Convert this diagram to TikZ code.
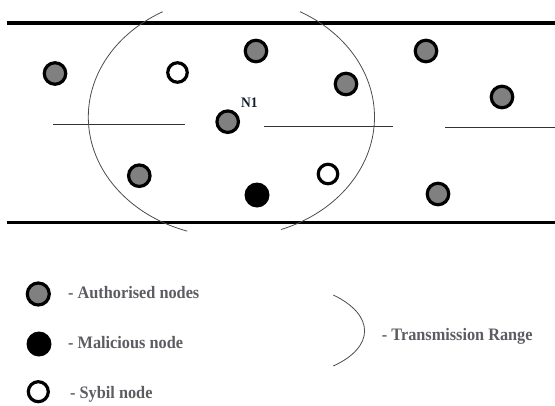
\documentclass[tikz,border=0pt]{standalone}
\usepackage{fontspec}
\newfontfamily\lblfont{Liberation Serif}[FakeStretch=0.93]
\definecolor{txtgray}{RGB}{92,92,98}
\definecolor{nodegray}{RGB}{128,128,128}
\definecolor{ntxt}{RGB}{20,28,48}
\tikzset{
  roadline/.style={line width=3.4pt, black},
  thinline/.style={line width=0.9pt, black!80},
  rangeline/.style={line width=0.8pt, black!70},
  authnode/.style={circle, draw=black, line width=3.2pt, fill=nodegray, minimum size=21.5pt, inner sep=0pt},
  sybnode/.style={circle, draw=black, line width=3.2pt, fill=white, minimum size=19.5pt, inner sep=0pt},
  malnode/.style={circle, fill=black, minimum size=25pt, inner sep=0pt},
  lbl/.style={anchor=base west, inner sep=0pt, text=txtgray, font=\lblfont\bfseries\fontsize{17.5}{20}\selectfont},
  nlbl/.style={anchor=base west, inner sep=0pt, text=ntxt, font=\lblfont\bfseries\fontsize{14.5}{16}\selectfont}
}
\begin{document}
\begin{tikzpicture}[x=1pt, y=-1pt]
\useasboundingbox (0,0) rectangle (555,405);
% road borders
\coordinate (tl) at (7.3,23);
\coordinate (tr) at (555,23);
\coordinate (bl) at (7.3,222.3);
\coordinate (br) at (555,222.3);
\draw[roadline] (tl) -- (tr);
\draw[roadline] (bl) -- (br);
% lane lines
\coordinate (l1a) at (53,124); \coordinate (l1b) at (185,124);
\coordinate (l2a) at (264,126.7); \coordinate (l2b) at (393,126.7);
\coordinate (l3a) at (445,127.7); \coordinate (l3b) at (555,127.7);
\draw[thinline] (l1a) -- (l1b);
\draw[thinline] (l2a) -- (l2b);
\draw[thinline] (l3a) -- (l3b);
% transmission range of N1
\draw[rangeline] plot[domain=118.7:252, samples=80] ({231.4+143.1*cos(\x)}, {117-120*sin(\x)});
\draw[rangeline] plot[domain=-69.7:61.3, samples=80] ({231.4+143.1*cos(\x)}, {117-120*sin(\x)});
% nodes
\node[authnode] (a1) at (55,73.5) {};
\node[sybnode]  (s1) at (177.5,72.5) {};
\node[authnode] (a2) at (256,51) {};
\node[authnode] (a3) at (346,84) {};
\node[authnode] (a4) at (426,51) {};
\node[authnode] (a5) at (502,97) {};
\node[authnode] (n1) at (227.7,121.7) {};
\node[nlbl] (n1lbl) at (241,107) {N1};
\node[authnode] (a6) at (139.3,175.7) {};
\node[malnode]  (m1) at (257,195) {};
\node[sybnode]  (s2) at (328,174) {};
\node[authnode] (a7) at (438,194) {};
% legend
\node[authnode, minimum size=22pt] (lga) at (38.3,294) {};
\node[lbl] (lgat) at (68,298.3) {- Authorised nodes};
\node[malnode] (lgm) at (39,344) {};
\node[lbl] (lgmt) at (68,348.3) {- Malicious node};
\node[sybnode, minimum size=20pt] (lgs) at (38.3,391.7) {};
\node[lbl] (lgst) at (70,398.3) {- Sybil node};
\coordinate (ra) at (333.3,295);
\coordinate (rb) at (333.3,366);
\draw[rangeline] (ra) .. controls (375,315) and (375,347) .. (rb);
\node[lbl] (lgrt) at (381.7,340) {- Transmission Range};
\end{tikzpicture}
\end{document}
